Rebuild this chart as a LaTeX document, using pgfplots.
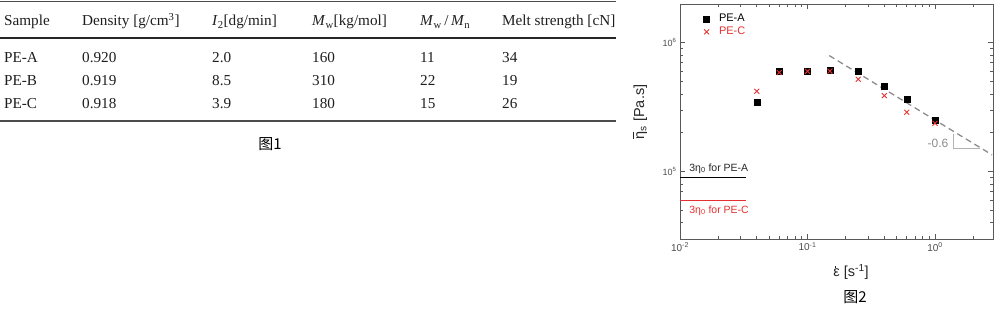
\documentclass[border=0pt]{standalone}
\usepackage{pgfplots}
\pgfplotsset{compat=1.18}
\usepackage{fontspec}
\setmainfont{Liberation Sans}
\newfontfamily\tabfont{Liberation Serif}
\newfontfamily\cjk{Noto Sans CJK SC}
\definecolor{pered}{RGB}{228,48,48}
\definecolor{tabtext}{RGB}{30,30,30}

\begin{document}
\begin{tikzpicture}
\useasboundingbox (0pt,0pt) rectangle (1000pt,314pt);

% ---- Table: sample properties ----
\begin{scope}[x=1pt, y=1pt, font=\tabfont\fontsize{15.2}{18}\selectfont, text=tabtext,
  every node/.style={anchor=base west, inner sep=0pt}]
  \draw[line width=1pt, black!70] (0,312) -- (616,312);
  \draw[line width=2.2pt, black!85] (0,275.7) -- (616,275.7);
  \draw[line width=1.3pt, black!70] (0,193) -- (616,193);

  \node at (4,288) {Sample};
  \node at (82,288) {Density [g/cm\textsuperscript{3}]};
  \node at (212,288) {\textit{I}\textsubscript{2}[dg/min]};
  \node at (312,288) {\textit{M}\textsubscript{w}[kg/mol]};
  \node at (420,288) {\textit{M}\textsubscript{w}\,/\,\textit{M}\textsubscript{n}};
  \node at (502,288) {Melt strength [cN]};

  \node at (4,251.3) {PE-A};   \node at (82,251.3) {0.920};
  \node at (212,251.3) {2.0};  \node at (312,251.3) {160};
  \node at (420,251.3) {11};   \node at (502,251.3) {34};

  \node at (4,228.7) {PE-B};   \node at (82,228.7) {0.919};
  \node at (212,228.7) {8.5};  \node at (312,228.7) {310};
  \node at (420,228.7) {22};   \node at (502,228.7) {19};

  \node at (4,205.7) {PE-C};   \node at (82,205.7) {0.918};
  \node at (212,205.7) {3.9};  \node at (312,205.7) {180};
  \node at (420,205.7) {15};   \node at (502,205.7) {26};
\end{scope}
\node[font=\cjk\fontsize{15}{17}\selectfont, inner sep=0pt] at (270pt,170pt) {图1};

% ---- Uniaxial extensional viscosity ----
\begin{axis}[
  at={(680pt,75pt)}, anchor=south west,
  width=313pt, height=235pt, scale only axis,
  xmode=log, ymode=log,
  xmin=0.01, xmax=2.85, ymin=3e4, ymax=2e6,
  xtick={0.01,0.1,1},
  xticklabels={10\textsuperscript{-2},10\textsuperscript{-1},10\textsuperscript{0}},
  ytick={1e5,1e6},
  yticklabels={10\textsuperscript{5},10\textsuperscript{6}},
  minor xtick={0.02,0.03,0.04,0.05,0.06,0.07,0.08,0.09,0.2,0.3,0.4,0.5,0.6,0.7,0.8,0.9,2},
  minor ytick={4e4,5e4,6e4,7e4,8e4,9e4,2e5,3e5,4e5,5e5,6e5,7e5,8e5,9e5},
  tick pos=both, tick align=inside,
  major tick length=5pt, minor tick length=3pt,
  axis line style={black!65, line width=0.9pt},
  every tick/.style={black!65, line width=0.8pt},
  x tick label style={font=\fontsize{10}{11}\selectfont, text=black!70},
  y tick label style={font=\fontsize{9}{10}\selectfont, text=black!70},
  legend style={draw=none, fill=none, inner sep=0pt, at={(0.07,0.966)}, anchor=north west,
    font=\fontsize{11}{13}\selectfont, row sep=0pt},
  legend cell align=left,
  legend image code/.code={\path (0pt,0pt) (14pt,0pt);
    \draw[#1] plot coordinates {(4pt,0pt)};},
]
\addplot[only marks, mark=square*, mark size=3pt, black] coordinates {
  (0.04,3.45e5) (0.06,5.98e5) (0.1,6.0e5) (0.15,6.17e5)
  (0.25,6.0e5) (0.4,4.57e5) (0.6,3.65e5) (1.0,2.49e5)};
\addlegendentry{PE-A}
\addplot[only marks, mark=x, mark size=3.5pt, pered, line width=0.9pt] coordinates {
  (0.04,4.2e5) (0.06,5.88e5) (0.1,6.0e5) (0.15,6.03e5)
  (0.25,5.21e5) (0.4,3.89e5) (0.6,2.89e5) (1.0,2.37e5)};
\addlegendentry{\textcolor{pered}{PE-C}}

% power-law slope guide
\addplot[forget plot, black!45, line width=1.3pt, dash pattern=on 6pt off 4pt]
  coordinates {(0.148,7.96e5) (2.8,1.35e5)};
\addplot[forget plot, black!30, line width=0.9pt]
  coordinates {(1.39,1.97e5) (1.39,1.51e5) (2.26,1.51e5)};
\node[anchor=east, text=black!45, font=\fontsize{12}{14}\selectfont, inner sep=1pt]
  at (axis cs:1.3,1.65e5) {-0.6};

% three times the zero-shear viscosity
\addplot[forget plot, black, line width=1.1pt] coordinates {(0.01,9e4) (0.033,9e4)};
\addplot[forget plot, pered, line width=1.1pt] coordinates {(0.01,6e4) (0.033,6e4)};
\node[anchor=west, inner sep=0pt, text=black!85, font=\fontsize{10.5}{12}\selectfont]
  at (axis cs:0.0118,1.055e5) {3η\textsubscript{0} for PE-A};
\node[anchor=west, inner sep=0pt, text=pered, font=\fontsize{10.5}{12}\selectfont]
  at (axis cs:0.0118,4.98e4) {3η\textsubscript{0} for PE-C};
\end{axis}

% axis titles
\node[font=\fontsize{14.5}{16}\selectfont, text=black!85] at (851pt,42pt)
  {\makebox[0pt][l]{\hspace{0.1em}\rule[0.62em]{0.11em}{0.11em}}ε [s\textsuperscript{-1}]};
\node[rotate=90, font=\fontsize{14.5}{16}\selectfont, text=black!85] at (640pt,202pt)
  {\makebox[0pt][l]{\hspace{0.06em}\rule[0.72em]{0.42em}{0.07em}}η\textsubscript{s} [Pa.s]};
\node[font=\cjk\fontsize{15}{17}\selectfont, inner sep=0pt] at (855pt,17pt) {图2};
\end{tikzpicture}
\end{document}
